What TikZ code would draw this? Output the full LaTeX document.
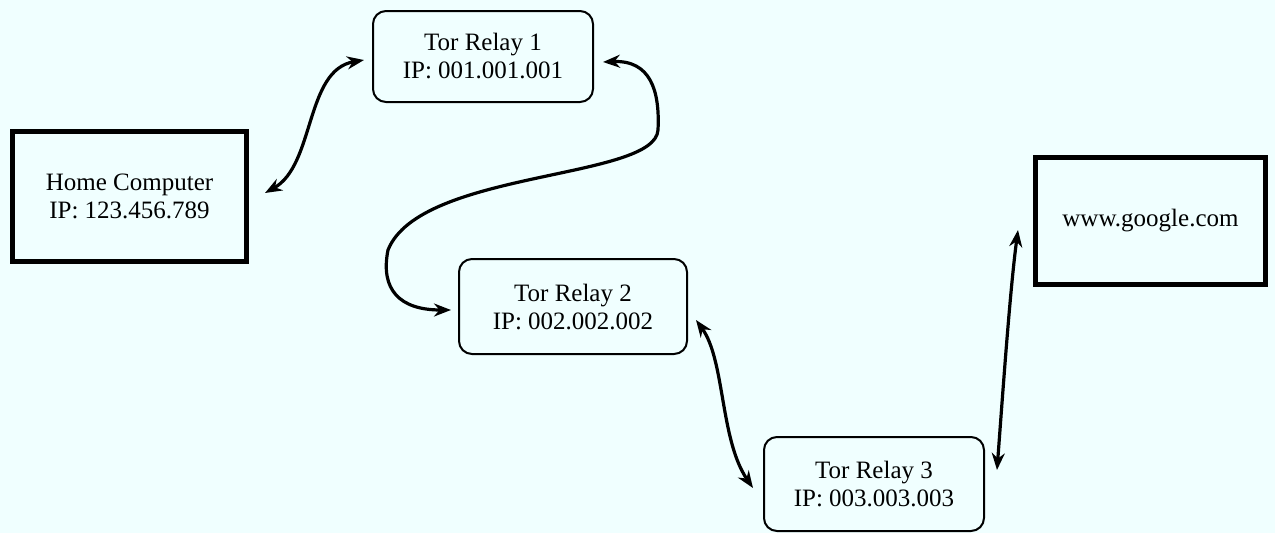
\documentclass[tikz,border=0pt]{standalone}
\usepackage{fontspec}
\setmainfont{Liberation Serif}
\usetikzlibrary{arrows.meta}
\definecolor{bgc}{RGB}{240,255,255}
\begin{document}
\begin{tikzpicture}[x=1pt,y=-1pt,
  every node/.style={font=\fontsize{25}{28}\selectfont, align=center, inner sep=0pt},
  relay/.style={draw=black, line width=2pt, rounded corners=13pt},
  endpt/.style={draw=black, line width=5pt},
  link/.style={line width=3.2pt, {Stealth[length=17pt,width=13pt]}-{Stealth[length=17pt,width=13pt]}}]
\fill[bgc] (0,0) rectangle (1275,533);
\useasboundingbox (0,0) rectangle (1275,533);
\node[endpt, minimum width=234pt, minimum height=130pt] (home) at (129.5,196.5) {Home Computer\\IP: 123.456.789};
\node[relay, minimum width=220pt, minimum height=91pt] (r1) at (483,56.5) {Tor Relay 1\\IP: 001.001.001};
\node[relay, minimum width=228pt, minimum height=95pt] (r2) at (573,306.5) {Tor Relay 2\\IP: 002.002.002};
\node[relay, minimum width=220pt, minimum height=94pt] (r3) at (874,484) {Tor Relay 3\\IP: 003.003.003};
\node[endpt, minimum width=230pt, minimum height=127pt] (google) at (1150.5,221) {www.google.com};
\draw[link] ([xshift=16pt,yshift=3.5pt]home.east) .. controls (315,165) and (305,70) .. ([xshift=-8pt,yshift=-3.5pt]r1.west);
\draw[link] ([xshift=9pt,yshift=-5.5pt]r1.east) .. controls (650,60) and (660,90) .. (658,130) .. controls (655,180) and (420,170) .. (388,250) .. controls (380,290) and (400,310) .. ([xshift=-7pt,yshift=-3.5pt]r2.west);
\draw[link] ([xshift=8pt,yshift=-13.5pt]r2.east) .. controls (725,360) and (720,440) .. ([xshift=-10pt,yshift=-4pt]r3.west);
\draw[link] ([xshift=12pt,yshift=14pt]r3.east) .. controls (1003,390) and (1010,290) .. ([xshift=-15pt,yshift=-9pt]google.west);
\end{tikzpicture}
\end{document}
